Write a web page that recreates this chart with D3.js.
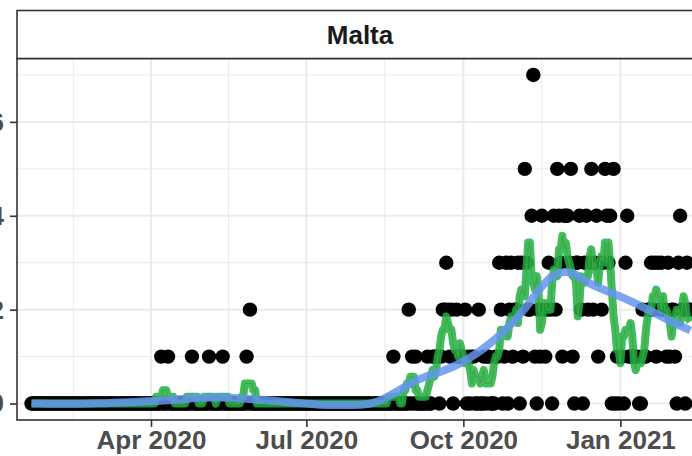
<!DOCTYPE html>
<html><head><meta charset="utf-8">
<script src="https://cdn.jsdelivr.net/npm/d3@7"></script>
<style>body{margin:0;background:#fff} svg{display:block}</style>
</head><body>
<svg id="chart" width="692" height="456"></svg>
<script>
// ---------- data (daily deaths, Malta) ----------
const facetLabel = "Malta";
const firstDay = "2020-01-22";
const deathsJan2020 = [0,0,0,0,0,0,0,0,0,0];
const deathsFeb2020 = [0,0,0,0,0,0,0,0,0,0, 0,0,0,0,0,0,0,0,0,0, 0,0,0,0,0,0,0,0,0];
const deathsMar2020 = [0,0,0,0,0,0,0,0,0,0, 0,0,0,0,0,0,0,0,0,0, 0,0,0,0,0,0,0,0,0,0, 0];
const deathsApr2020 = [0,0,0,0,0,0,1,0,0,0, 1,0,0,0,0,0,0,0,0,0, 0,0,0,0,1,0,0,0,0,0];
const deathsMay2020 = [0,0,0,0,1,0,0,0,0,0, 0,0,1,0,0,0,0,0,0,0, 0,0,0,0,0,0,1,0,2,0, 0];
const deathsJun2020 = [0,0,0,0,0,0,0,0,0,0, 0,0,0,0,0,0,0,0,0,0, 0,0,0,0,0,0,0,0,0,0];
const deathsJul2020 = [0,0,0,0,0,0,0,0,0,0, 0,0,0,0,0,0,0,0,0,0, 0,0,0,0,0,0,0,0,0,0, 0];
const deathsAug2020 = [0,0,0,0,0,0,0,0,0,0, 0,0,0,0,0,0,0,0,0,0, 1,0,0,0,0,0,0,0,0,2, 0];
const deathsSep2020 = [1,0,1,0,0,0,0,0,0,1, 0,0,1,1,1,1,0,1,2,2, 3,2,1,2,0,1,2,1,1,1];
const deathsOct2020 = [1,2,0,1,0,1,1,0,0,2, 0,0,1,0,1,1,0,0,0,1, 1,3,2,0,1,3,0,2,3,1, 2];
const deathsNov2020 = [2,3,0,3,1,5,3,2,2,4, 7,1,0,2,1,4,2,1,2,3, 2,0,4,2,5,4,3,1,4,4];
const deathsDec2020 = [4,3,5,1,0,3,3,4,2,0, 3,4,2,3,5,2,3,4,1,3, 2,3,5,4,3,4,0,5,0,1, 0];
const deathsJan2021 = [1,1,0,3,4,1,1,1,1,1, 1,0,0,2,1,1,2,2,3,2, 3,1,3,2,3,2,2,1,3,1, 2];
const deathsFeb2021 = [2,1,0,3,4,2,2,0,3,2,2];

const yTicks = [0, 2, 4, 6];
const yMinorTicks = [1, 3, 5, 7];
const xTickDates = ["2020-04-01", "2020-07-01", "2020-10-01", "2021-01-01"];
const xTickLabels = ["Apr 2020", "Jul 2020", "Oct 2020", "Jan 2021"];
const xGridQuarters = ["2020-01-01", "2020-04-01", "2020-07-01", "2020-10-01", "2021-01-01", "2021-04-01"];

// ---------- build table ----------
const dailyDeaths = [].concat(deathsJan2020, deathsFeb2020, deathsMar2020, deathsApr2020,
  deathsMay2020, deathsJun2020, deathsJul2020, deathsAug2020, deathsSep2020, deathsOct2020,
  deathsNov2020, deathsDec2020, deathsJan2021, deathsFeb2021);
const DAY = 864e5;
const t0 = Date.parse(firstDay + "T00:00:00Z");
const rows = dailyDeaths.map((v, i) => ({ i, date: new Date(t0 + i * DAY), v }));

// 7-day centred rolling mean (partial windows at the ends)
const roll = rows.map((r, i) => {
  const w = rows.slice(Math.max(0, i - 3), Math.min(rows.length, i + 4));
  return { date: r.date, v: d3.mean(w, d => d.v) };
});

// loess (local quadratic, tricube weights)
function loess(xs, ys, span, grid) {
  const n = xs.length, q = Math.floor(span * n);
  return grid.map(x0 => {
    const dist = xs.map(x => Math.abs(x - x0));
    const h = dist.slice().sort((a, b) => a - b)[q - 1] * 1.0000001;
    const S = [[0,0,0],[0,0,0],[0,0,0]], B = [0,0,0];
    for (let k = 0; k < n; k++) {
      const u = dist[k] / h; if (u >= 1) continue;
      const w = Math.pow(1 - u * u * u, 3);
      const dx = xs[k] - x0, p = [1, dx, dx * dx];
      for (let a = 0; a < 3; a++) { B[a] += w * p[a] * ys[k]; for (let b = 0; b < 3; b++) S[a][b] += w * p[a] * p[b]; }
    }
    const det = m => m[0][0]*(m[1][1]*m[2][2]-m[1][2]*m[2][1]) - m[0][1]*(m[1][0]*m[2][2]-m[1][2]*m[2][0]) + m[0][2]*(m[1][0]*m[2][1]-m[1][1]*m[2][0]);
    const D = det(S); const M = S.map((row, a) => row.map((c, b) => b === 0 ? B[a] : c));
    return det(M) / D;
  });
}
const loessSpan = 0.35;
const xsDays = rows.map(r => r.i), ysVals = rows.map(r => r.v);
const gridDays = d3.range(0, 81).map(k => k * (rows.length - 1) / 80);
const smooth = loess(xsDays, ysVals, loessSpan, gridDays).map((v, k) => ({ date: new Date(t0 + gridDays[k] * DAY), v }));

// ---------- layout ----------
const W = 692, H = 456;
const panel = { left: 17, right: 703, top: 58.5, bottom: 420 };
const strip = { top: 10.5, bottom: 58.5 };
const FONT = "'Liberation Sans', Arial, Helvetica, sans-serif";
const svg = d3.select("#chart");

const x = d3.scaleUtc()
  .domain([new Date(t0 - 8.5 * DAY), new Date(t0 + (rows.length - 1 + 7.4) * DAY)])
  .range([panel.left, panel.right]);
const y = d3.scaleLinear().domain([-0.35, 7.35]).range([panel.bottom, panel.top]);

svg.append("rect").attr("width", W).attr("height", H).attr("fill", "#fff");
svg.append("defs").append("clipPath").attr("id", "pc").append("rect")
  .attr("x", panel.left).attr("y", panel.top)
  .attr("width", panel.right - panel.left).attr("height", panel.bottom - panel.top);

const g = svg.append("g").attr("clip-path", "url(#pc)");
const gridCol = "#ebebeb";
const q = xGridQuarters.map(s => Date.parse(s + "T00:00:00Z"));
const xMinor = d3.range(q.length - 1).map(k => new Date((q[k] + q[k + 1]) / 2));
g.selectAll(".ymin").data(yMinorTicks).join("line")
  .attr("x1", panel.left).attr("x2", panel.right).attr("y1", d => y(d)).attr("y2", d => y(d))
  .attr("stroke", gridCol).attr("stroke-width", 1);
g.selectAll(".xmin").data(xMinor).join("line")
  .attr("x1", d => x(d)).attr("x2", d => x(d)).attr("y1", panel.top).attr("y2", panel.bottom)
  .attr("stroke", gridCol).attr("stroke-width", 1);
g.selectAll(".ymaj").data(yTicks).join("line")
  .attr("x1", panel.left).attr("x2", panel.right).attr("y1", d => y(d)).attr("y2", d => y(d))
  .attr("stroke", gridCol).attr("stroke-width", 2);
const xMajor = xTickDates.map(s => new Date(s + "T00:00:00Z"));
g.selectAll(".xmaj").data(xMajor).join("line")
  .attr("x1", d => x(d)).attr("x2", d => x(d)).attr("y1", panel.top).attr("y2", panel.bottom)
  .attr("stroke", gridCol).attr("stroke-width", 2);

// points
g.selectAll("circle").data(rows).join("circle")
  .attr("cx", d => x(d.date)).attr("cy", d => y(d.v)).attr("r", 7.2).attr("fill", "#000");

// rolling mean: thin red + thick green
const line = d3.line().x(d => x(d.date)).y(d => y(d.v));
g.append("path").datum(roll).attr("d", line).attr("fill", "none")
  .attr("stroke", "#F8766D").attr("stroke-width", 1.2);
g.append("path").datum(roll).attr("d", line).attr("fill", "none")
  .attr("stroke", "#1fb040").attr("stroke-opacity", 0.85).attr("stroke-width", 8)
  .attr("stroke-linejoin", "round");
// smooth
g.append("path").datum(smooth).attr("d", line).attr("fill", "none")
  .attr("stroke", "#6495ED").attr("stroke-opacity", 0.85).attr("stroke-width", 8);

// panel border
svg.append("rect").attr("x", panel.left).attr("y", panel.top)
  .attr("width", panel.right - panel.left).attr("height", panel.bottom - panel.top)
  .attr("fill", "none").attr("stroke", "#333").attr("stroke-width", 1.6);
// strip
svg.append("rect").attr("x", panel.left).attr("y", strip.top)
  .attr("width", panel.right - panel.left).attr("height", strip.bottom - strip.top)
  .attr("fill", "#fff").attr("stroke", "#333").attr("stroke-width", 1.6);
svg.append("text").attr("x", (panel.left + panel.right) / 2).attr("y", (strip.top + strip.bottom) / 2)
  .attr("text-anchor", "middle").attr("dominant-baseline", "central")
  .attr("font-family", FONT).attr("font-weight", "bold").attr("font-size", 26)
  .attr("fill", "#1a1a1a").text(facetLabel);

// axes
const yAxis = d3.axisLeft(y).tickValues(yTicks).tickSize(7).tickPadding(6).tickFormat(d3.format("d"));
const ya = svg.append("g").attr("transform", `translate(${panel.left},0)`).call(yAxis);
const xAxis = d3.axisBottom(x).tickValues(xMajor).tickSize(7).tickPadding(4)
  .tickFormat((d, k) => xTickLabels[k]);
const xa = svg.append("g").attr("transform", `translate(0,${panel.bottom})`).call(xAxis);
[ya, xa].forEach(a => {
  a.select(".domain").remove();
  a.selectAll(".tick line").attr("stroke", "#333").attr("stroke-width", 1.6);
  a.selectAll(".tick text").attr("font-family", FONT).attr("font-weight", "bold")
    .attr("font-size", 26).attr("fill", "#4d4d4d");
});
</script>
</body></html>
